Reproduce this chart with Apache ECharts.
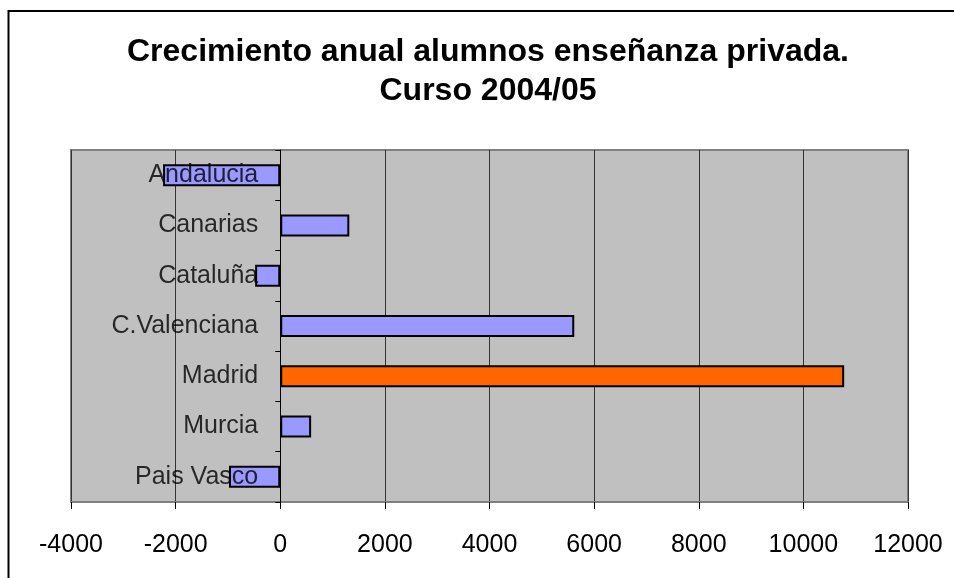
<!DOCTYPE html>
<html>
<head>
<meta charset="utf-8">
<script src="https://cdn.jsdelivr.net/npm/echarts@6/dist/echarts.min.js"></script>
<style>
  html, body { margin: 0; padding: 0; background: #fff; }
  #chart { width: 954px; height: 578px; }
</style>
</head>
<body>
<div id="chart"></div>
<script>
// datos
const regiones = ['Andalucia', 'Canarias', 'Cataluña', 'C.Valenciana', 'Madrid', 'Murcia', 'Pais Vasco'];
const crecimiento = [-2240, 1320, -480, 5620, 10780, 590, -980];
const destacada = 'Madrid';

const chart = echarts.init(document.getElementById('chart'));
const font = 'Liberation Sans, Arial, sans-serif';

chart.setOption({
  animation: false,
  title: {
    text: 'Crecimiento anual alumnos enseñanza privada.\nCurso 2004/05',
    left: 488,
    top: 33,
    padding: 0,
    textAlign: 'center',
    textStyle: { fontFamily: font, fontSize: 32, fontWeight: 'bold', color: '#000', lineHeight: 39 }
  },
  graphic: [
    { type: 'polyline', shape: { points: [[8.5, 578], [8.5, 11], [954, 11]] }, style: { stroke: '#000', lineWidth: 2, fill: null } }
  ],
  grid: {
    left: 71, right: 46, top: 150, bottom: 76,
    outerBoundsMode: 'none', containLabel: false,
    show: true, backgroundColor: '#c0c0c0', borderColor: '#808080', borderWidth: 2
  },
  xAxis: {
    type: 'value', min: -4000, max: 12000, interval: 2000,
    axisLine: { show: true, onZero: false, lineStyle: { color: '#808080', width: 2 } },
    axisTick: { show: true, length: 7, lineStyle: { color: '#000' } },
    axisLabel: { margin: 31, fontFamily: font, fontSize: 25, color: '#000', formatter: v => String(v) },
    splitLine: { show: true, lineStyle: { color: '#333', width: 1 } }
  },
  yAxis: {
    type: 'category', data: regiones, inverse: true, z: 5,
    axisLine: { show: true, onZero: true, lineStyle: { color: '#000', width: 1 } },
    axisTick: { show: true, inside: false, length: 5, lineStyle: { color: '#000' } },
    axisLabel: { show: false }
  },
  series: [{
    type: 'bar',
    barWidth: 22,
    data: crecimiento.map((v, i) => ({
      value: v,
      itemStyle: { color: regiones[i] === destacada ? '#ff6600' : '#9999ff' }
    })),
    itemStyle: { borderColor: '#000', borderWidth: 2 }
  }, {
    // nombres de categoría junto al eje en cero, por encima de las barras
    type: 'scatter',
    z: 10,
    symbolSize: 0,
    silent: true,
    data: regiones.map(r => [0, r]),
    label: {
      show: true, position: 'left', distance: 22,
      fontFamily: font, fontSize: 25, color: '#000',
      formatter: p => p.value[1]
    }
  }]
});
</script>
</body>
</html>
